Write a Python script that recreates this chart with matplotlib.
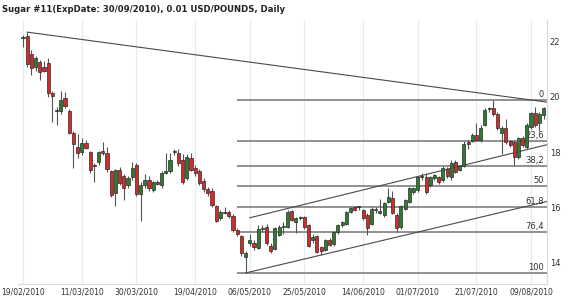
import numpy as np
import pandas as pd
import matplotlib
matplotlib.use("Agg")
import matplotlib.pyplot as plt

# daily bars, Feb 19 .. Aug 12 2010 (weekdays)
dates = pd.bdate_range("2010-02-19", "2010-08-12")

opens = [22.15, 22.20, 21.56, 21.10, 21.25, 21.10, 21.23, 20.15, 19.50, 19.50,
         19.96, 19.50, 18.70, 18.20, 18.00, 18.33, 18.00, 17.54, 17.65, 18.04,
         17.97, 17.32, 16.52, 17.36, 17.14, 16.80, 17.10, 17.54, 16.49, 16.80,
         17.00, 16.63, 16.92, 16.80, 17.24, 17.32, 18.00, 17.97, 17.72, 17.07,
         17.80, 17.43, 17.30, 16.96, 16.67, 16.60, 16.05, 15.60, 15.83, 15.83,
         15.69, 15.18, 14.96, 14.20, 14.70, 14.71, 14.53, 15.20, 15.30, 14.60,
         14.50, 15.00, 15.29, 15.29, 15.87, 15.47, 15.62, 15.65, 15.36, 14.80,
         14.96, 14.55, 14.45, 14.82, 14.67, 15.10, 15.36, 15.40, 15.83, 16.00,
         16.00, 15.90, 15.72, 15.40, 15.91, 15.80, 15.72, 16.20, 16.34, 15.72,
         15.29, 15.94, 16.20, 16.56, 16.63, 17.10, 17.10, 16.81, 17.07, 17.10,
         16.99, 17.40, 17.10, 17.64, 17.36, 17.50, 18.37, 18.41, 18.62, 18.44,
         18.99, 19.56, 19.60, 19.38, 18.70, 18.88, 18.40, 18.37, 17.83, 18.51,
         18.19, 18.91, 19.42, 19.06, 19.35]
highs = [22.25, 22.35, 21.70, 21.50, 21.35, 21.30, 21.40, 20.20, 19.65, 20.20,
         20.18, 19.55, 18.75, 18.65, 18.50, 18.45, 18.05, 17.60, 18.05, 18.37,
         18.20, 17.36, 17.40, 17.45, 17.20, 17.15, 17.65, 17.60, 16.90, 17.20,
         17.15, 16.95, 17.00, 17.30, 17.97, 17.97, 18.10, 18.10, 17.95, 17.95,
         17.97, 17.55, 17.40, 17.05, 16.75, 16.70, 16.10, 15.90, 16.01, 15.90,
         15.75, 15.25, 15.00, 14.40, 15.05, 14.80, 15.35, 15.36, 15.40, 14.70,
         15.30, 15.35, 15.45, 15.90, 15.92, 15.65, 15.70, 15.70, 15.40, 15.05,
         15.00, 14.60, 14.85, 14.90, 15.15, 15.40, 15.50, 15.88, 16.00, 16.05,
         16.05, 15.95, 15.80, 16.00, 16.00, 16.30, 16.20, 16.70, 16.60, 15.80,
         16.10, 16.30, 16.75, 16.75, 17.15, 17.25, 17.25, 17.15, 17.20, 17.15,
         17.50, 17.45, 17.70, 17.70, 17.55, 18.40, 18.45, 18.70, 19.05, 19.00,
         19.60, 19.65, 19.89, 19.45, 18.95, 19.20, 18.45, 18.45, 18.55, 18.60,
         19.05, 19.45, 19.65, 19.45, 19.65]
lows = [21.80, 21.10, 20.80, 20.95, 20.60, 20.90, 20.00, 19.10, 19.00, 19.40,
        19.60, 18.65, 17.43, 17.80, 17.90, 18.10, 17.25, 16.90, 17.55, 17.90,
        17.28, 16.38, 16.05, 16.80, 16.27, 16.70, 17.00, 16.40, 15.50, 16.70,
        16.60, 16.55, 16.80, 16.70, 17.20, 17.25, 17.90, 17.50, 16.85, 17.00,
        17.30, 17.15, 16.80, 16.55, 16.40, 16.00, 15.45, 15.55, 15.75, 15.60,
        15.10, 14.95, 14.24, 13.62, 14.60, 14.45, 14.50, 15.10, 14.65, 14.35,
        14.45, 14.95, 15.05, 15.25, 15.50, 15.07, 15.55, 15.20, 14.55, 14.70,
        14.35, 14.27, 14.40, 14.60, 14.60, 15.05, 15.30, 15.35, 15.78, 15.85,
        15.90, 15.55, 15.00, 15.35, 15.80, 15.75, 15.65, 16.15, 15.75, 15.11,
        15.20, 15.90, 16.15, 16.50, 16.55, 17.00, 16.50, 16.75, 17.00, 16.85,
        16.90, 17.05, 17.00, 17.25, 17.30, 17.45, 18.10, 18.35, 18.40, 18.35,
        18.95, 19.45, 19.30, 18.80, 17.95, 18.30, 18.20, 17.55, 17.75, 18.20,
        18.10, 18.85, 18.90, 18.75, 19.20]
closes = [22.17, 21.20, 21.05, 21.40, 20.90, 20.95, 20.15, 20.05, 19.50, 19.90,
          19.67, 18.70, 18.30, 17.97, 18.33, 18.15, 17.36, 17.48, 18.00, 17.98,
          17.39, 16.45, 17.36, 16.88, 16.70, 17.07, 17.43, 16.49, 16.80, 17.00,
          16.70, 16.92, 16.85, 17.25, 17.32, 17.72, 18.00, 17.60, 16.92, 17.83,
          17.36, 17.25, 16.88, 16.67, 16.52, 16.10, 15.50, 15.83, 15.80, 15.69,
          15.18, 15.04, 14.35, 14.35, 14.82, 14.57, 15.20, 15.20, 14.72, 14.42,
          15.25, 15.29, 15.30, 15.83, 15.54, 15.60, 15.62, 15.30, 14.60, 14.93,
          14.38, 14.40, 14.82, 14.64, 15.10, 15.36, 15.47, 15.83, 15.98, 15.90,
          16.00, 15.60, 15.25, 15.94, 15.91, 15.87, 16.16, 16.38, 15.80, 15.25,
          16.05, 16.27, 16.70, 16.70, 17.10, 17.10, 16.56, 17.10, 17.17, 16.92,
          17.43, 17.15, 17.60, 17.28, 17.50, 18.30, 18.30, 18.62, 18.44, 18.88,
          19.53, 19.56, 19.38, 18.88, 18.88, 18.37, 18.26, 17.83, 18.51, 18.26,
          18.98, 19.42, 18.98, 19.38, 19.60]

# trend lines: (bar date, price) anchors, extended to the right edge
trend_top = (["2010-02-22", "2010-08-09"], [22.35, 19.89])
channel_up = (["2010-05-06", "2010-08-12"], [15.62, 18.24])
channel_low = (["2010-05-05", "2010-05-31"], [13.62, 14.27])

# fibonacci retracement
fib_high = 19.89
fib_low = 13.62
fib_start = "2010-05-03"
fib_levels = [0, 23.6, 38.2, 50, 61.8, 76.4, 100]
fib_labels = ["0", "23,6", "38,2", "50", "61,8", "76,4", "100"]

xtick_labels = ["19/02/2010", "11/03/2010", "30/03/2010", "19/04/2010", "06/05/2010",
                "25/05/2010", "14/06/2010", "01/07/2010", "21/07/2010", "09/08/2010"]
ytick_vals = [14, 16, 18, 20, 22]

title = "Sugar #11(ExpDate: 30/09/2010), 0.01 USD/POUNDS, Daily"

###############################################################################
o = np.array(opens)
h = np.array(highs)
l = np.array(lows)
c = np.array(closes)
x = np.arange(len(dates))
day_str = list(dates.strftime("%d/%m/%Y"))

def idx(d):
    return dates.get_loc(pd.Timestamp(d))

fig = plt.figure(figsize=(5.7, 3.03), dpi=100)
ax = fig.add_axes([18/570, 1-284/303, 529/570, 264/303])

xmin, xmax = -1.2, 124.8
ax.set_xlim(xmin, xmax)
ax.set_ylim(13.22, 22.79)

tick_pos = [day_str.index(t) for t in xtick_labels]
for p in tick_pos:
    ax.axvline(p, color="#e4edf4", lw=0.9, zorder=0)

# fibonacci lines
f0 = idx(fib_start)
for lev, lab in zip(fib_levels, fib_labels):
    y = fib_high - (fib_high - fib_low) * lev / 100
    ax.hlines(y, f0, xmax, color="#888888", lw=1.3, zorder=1)
    ax.annotate(lab, xy=(1, y), xycoords=("axes fraction", "data"),
                xytext=(-2.2, 0.8), textcoords="offset points",
                ha="right", va="bottom", fontsize=6, color="#333333")

# trend lines
for dd, pp in [trend_top, channel_up, channel_low]:
    x1, x2 = idx(dd[0]), idx(dd[1])
    k = (pp[1] - pp[0]) / (x2 - x1)
    ax.plot([x1, xmax], [pp[0], pp[0] + k * (xmax - x1)],
            color="#4a4a4a", lw=0.8, zorder=2)

# candles
up = c >= o
ax.vlines(x, l, h, color="#555555", lw=0.8, zorder=3)
body = np.maximum(np.abs(c - o), 0.035)
ax.bar(x, body, bottom=np.minimum(o, c), width=0.74,
       color=np.where(up, "#2e7d2e", "#d42a2a"),
       edgecolor="#2a2a2a", linewidth=0.5, zorder=4)

ax.set_xticks(tick_pos)
ax.set_xticklabels(xtick_labels, fontsize=5.5, color="#333333")
ax.yaxis.tick_right()
ax.set_yticks(ytick_vals)
ax.set_yticklabels([str(v) for v in ytick_vals], fontsize=6, color="#333333")
ax.tick_params(axis="both", length=0, pad=2.5)
ax.tick_params(axis="y", pad=2)

for s in ["top", "left"]:
    ax.spines[s].set_visible(False)
for s in ["right", "bottom"]:
    ax.spines[s].set_color("#d8d8d8")
    ax.spines[s].set_linewidth(0.8)

fig.text(0.004, 0.985, title, fontsize=6.1, fontweight="bold",
         color="#222222", ha="left", va="top")

fig.savefig("out.png", dpi=100)
